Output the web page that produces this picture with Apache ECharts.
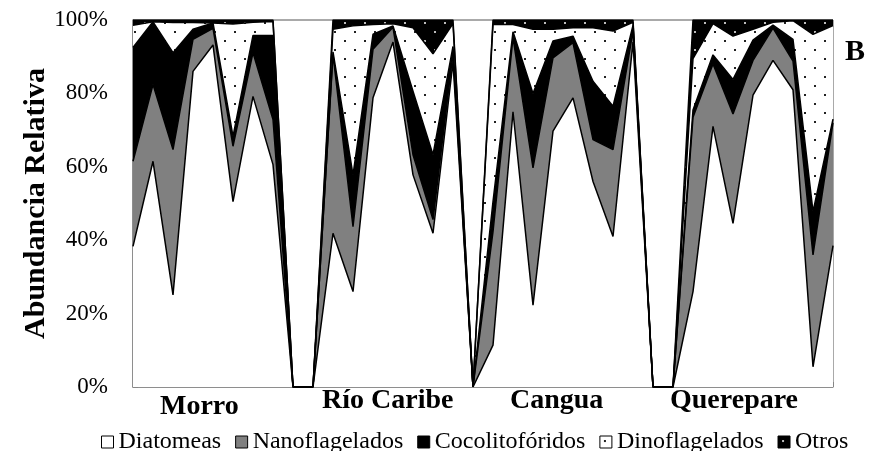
<!DOCTYPE html>
<html>
<head>
<meta charset="utf-8">
<script src="https://cdn.jsdelivr.net/npm/echarts@6/dist/echarts.min.js"></script>
<style>
  html, body { margin: 0; padding: 0; background: #fff; }
  #chart { width: 869px; height: 451px; }
</style>
</head>
<body>
<div id="chart"></div>
<script>
// 36 muestras; las posiciones vacías entre estaciones van en cero
const samples = ['M1','M2','M3','M4','M5','M6','M7','M8','g1','g2',
  'R1','R2','R3','R4','R5','R6','R7','g3',
  'C1','C2','C3','C4','C5','C6','C7','C8','g4','g5',
  'Q1','Q2','Q3','Q4','Q5','Q6','Q7','Q8']
const stations = ['Morro', 'Río Caribe', 'Cangua', 'Querepare']
const yTicks = [0, 20, 40, 60, 80, 100]

const diatomeas = [38.3, 61.5, 25.1, 86, 93.2, 50.5, 79.2, 60.6, 0, 0,
  41.9, 26, 78.8, 94, 57.8, 41.9, 88.5, 0,
  11.4, 75, 22.3, 69.7, 78.8, 56, 41, 94, 0, 0,
  26, 71, 44.6, 79.5, 89, 81, 5.5, 38.5]
const nanoflagelados = [23.2, 20.9, 39.6, 8.7, 4.5, 15.1, 11.9, 12.3, 0, 0,
  48.7, 17.7, 13.2, 4, 5.5, 3.7, 2.5, 0,
  30.9, 20.2, 37.4, 20, 15, 11.4, 23.7, 3, 0, 0,
  47.5, 17, 29.8, 9.5, 8.8, 7.8, 30.5, 33.5]
const cocolitoforidos = [31, 17.1, 26.4, 2.8, 1.5, 2.7, 4.7, 22.9, 0, 0,
  0.7, 14.1, 4.1, 0.4, 17.3, 17.7, 1.8, 0,
  8.2, 1.6, 20.3, 4.6, 1.8, 15.9, 11.8, 1.5, 0, 0,
  2, 2.5, 9.4, 5.5, 0.8, 5.9, 11.8, 1]
const dinoflagelados = [6.1, 0, 8.2, 1.8, 0, 30.6, 3.6, 3.8, 0, 0,
  6.2, 40.6, 2.7, 0.6, 17.3, 27.5, 6.2, 0,
  48.3, 2, 17.5, 3.2, 2.3, 14.6, 20.5, 0.9, 0, 0,
  14, 8.5, 11.8, 3, 0.8, 5.1, 48.3, 25.5]
const otros = [1.4, 0.5, 0.7, 0.7, 0.8, 1.1, 0.6, 0.4, 0, 0,
  2.5, 1.6, 1.2, 1, 2.1, 9.2, 1, 0,
  1.2, 1.2, 2.5, 2.5, 2.1, 2.1, 3, 0.6, 0, 0,
  10.5, 1, 4.4, 2.5, 0.6, 0.2, 3.9, 1.5]

const serif = 'Liberation Serif, Times New Roman, serif'

function dots(bg, dot) {
  const c = document.createElement('canvas')
  c.width = 20
  c.height = 18
  const ctx = c.getContext('2d')
  ctx.fillStyle = bg
  ctx.fillRect(0, 0, 20, 18)
  ctx.fillStyle = dot
  ctx.fillRect(4, 4, 2, 2)
  ctx.fillRect(14, 13, 2, 2)
  return c
}

const fills = {
  Diatomeas: '#ffffff',
  Nanoflagelados: '#808080',
  'Cocolitofóridos': '#000000',
  Dinoflagelados: { image: dots('#ffffff', '#222222'), repeat: 'repeat' },
  Otros: { image: dots('#000000', '#bbbbbb'), repeat: 'repeat' }
}
const seriesData = {
  Diatomeas: diatomeas,
  Nanoflagelados: nanoflagelados,
  'Cocolitofóridos': cocolitoforidos,
  Dinoflagelados: dinoflagelados,
  Otros: otros
}

const chart = echarts.init(document.getElementById('chart'))

let series = Object.keys(seriesData).map((name) => {
  return {
    name: name,
    type: 'line',
    stack: 'total',
    symbol: 'none',
    data: seriesData[name],
    lineStyle: { color: '#000', width: 1.5 },
    itemStyle: { color: name == 'Diatomeas' || name == 'Dinoflagelados' ? '#fff' : '#000' },
    areaStyle: { color: fills[name], opacity: 1 }
  }
})

let options = {
  animation: false,
  grid: {
    left: 133,
    right: 36,
    top: 20,
    bottom: 64,
    show: true,
    borderColor: '#555',
    borderWidth: 1
  },
  legend: {
    top: 425,
    left: 96,
    icon: 'rect',
    itemWidth: 12,
    itemHeight: 12,
    itemGap: 14,
    textStyle: { fontFamily: serif, fontSize: 24, color: '#000' },
    data: Object.keys(seriesData).map((name) => ({
      name: name,
      itemStyle: { color: fills[name], borderColor: '#000', borderWidth: 1 }
    }))
  },
  xAxis: {
    type: 'category',
    boundaryGap: false,
    data: samples,
    axisLine: { lineStyle: { color: '#868686', width: 1.5 } },
    axisTick: { inside: true, length: 5, interval: 0, lineStyle: { color: '#868686' } },
    axisLabel: { show: false }
  },
  yAxis: {
    type: 'value',
    min: yTicks[0],
    max: yTicks[yTicks.length - 1],
    interval: 20,
    name: 'Abundancia Relativa',
    nameLocation: 'middle',
    nameGap: 82,
    nameMoveOverlap: false,
    nameTextStyle: { fontFamily: serif, fontSize: 30, fontWeight: 'bold', color: '#000' },
    axisLine: { show: true, lineStyle: { color: '#868686', width: 1.5 } },
    axisTick: { show: true, inside: true, length: 5, lineStyle: { color: '#868686' } },
    splitLine: { show: false },
    axisLabel: {
      formatter: '{value}%',
      fontFamily: serif,
      fontSize: 23,
      color: '#000',
      margin: 25
    }
  },
  graphic: [
    { type: 'text', left: 160, top: 393, style: { text: stations[0], font: 'bold 28px ' + serif, fill: '#000' } },
    { type: 'text', left: 322, top: 387, style: { text: stations[1], font: 'bold 28px ' + serif, fill: '#000' } },
    { type: 'text', left: 510, top: 387, style: { text: stations[2], font: 'bold 28px ' + serif, fill: '#000' } },
    { type: 'text', left: 670, top: 387, style: { text: stations[3], font: 'bold 28px ' + serif, fill: '#000' } },
    { type: 'text', left: 845, top: 37, style: { text: 'B', font: 'bold 30px ' + serif, fill: '#000' } }
  ],
  series: series
}
chart.setOption(options)
</script>
</body>
</html>
